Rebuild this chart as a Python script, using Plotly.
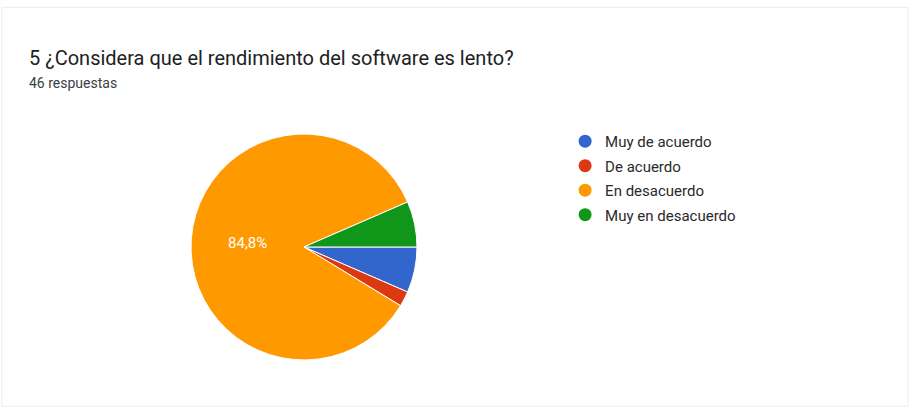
import plotly.graph_objects as go

categories = ["Muy de acuerdo", "De acuerdo", "En desacuerdo", "Muy en desacuerdo"]
counts = [3, 1, 39, 3]
colors = ["#3366cc", "#dc3912", "#ff9900", "#109618"]
shown_labels = ["", "", "%{percent:.1%}", ""]

title_text = "5 ¿Considera que el rendimiento del software es lento?"
subtitle_text = "46 respuestas"

fig = go.Figure()
fig.add_trace(go.Pie(
    labels=categories, values=counts, sort=False,
    direction="clockwise", rotation=90,
    marker=dict(colors=colors, line=dict(color="white", width=1)),
    texttemplate=shown_labels, textposition="inside",
    insidetextfont=dict(color="white", size=15, family="Roboto"),
    showlegend=False, hoverinfo="label+percent",
    domain=dict(x=[0.2099, 0.4582], y=[0.1155, 0.6708]),
))
for name, col in zip(categories, colors):
    fig.add_trace(go.Scatter(
        x=[None], y=[None], mode="markers", name=name, legendgroup=name,
        marker=dict(symbol="circle", size=13, color=col),
    ))

fig.update_layout(
    width=910, height=407,
    margin=dict(l=0, r=0, t=0, b=0),
    paper_bgcolor="white", plot_bgcolor="white",
    separators=",.",
    xaxis=dict(visible=False), yaxis=dict(visible=False),
    legend=dict(x=0.621, y=0.693, xanchor="left", yanchor="top",
                font=dict(family="Roboto", size=15, color="#2a2a2a"),
                tracegroupgap=2, itemwidth=30, bgcolor="rgba(0,0,0,0)"),
    annotations=[
        dict(text=title_text, x=27 / 910, y=1 - 58 / 407, xref="paper", yref="paper",
             xanchor="left", yanchor="middle", showarrow=False,
             font=dict(family="Roboto", size=20, color="#202124")),
        dict(text=subtitle_text, x=27 / 910, y=1 - 83 / 407, xref="paper", yref="paper",
             xanchor="left", yanchor="middle", showarrow=False,
             font=dict(family="Roboto", size=14, color="#3c4043")),
    ],
    shapes=[dict(type="rect", xref="paper", yref="paper", x0=0.002, x1=0.998,
                 y0=0.002, y1=0.982, line=dict(color="#ececec", width=1))],
)
fig.write_html("out.html", config={"displayModeBar": False},
               post_script="document.body.style.margin='0';")
